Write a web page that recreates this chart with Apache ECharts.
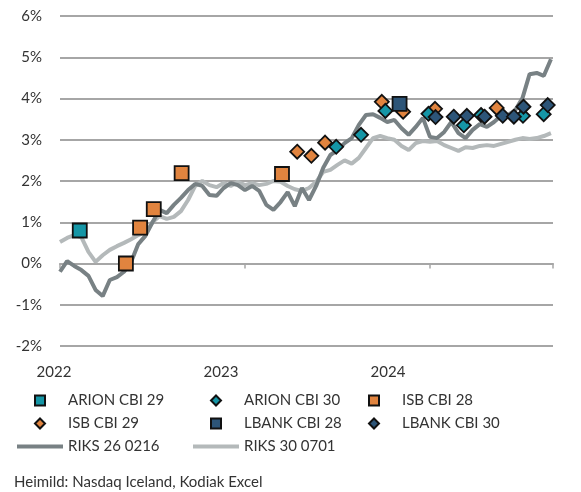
<!DOCTYPE html>
<html>
<head>
<meta charset="utf-8">
<script src="https://cdn.jsdelivr.net/npm/echarts@6/dist/echarts.min.js"></script>
<style>
  html, body { margin: 0; padding: 0; background: #fff; }
  #chart { width: 581px; height: 492px; }
</style>
</head>
<body>
<div id="chart"></div>
<script>
// y-ás (%)
const yTicks = [-2, -1, 0, 1, 2, 3, 4, 5, 6];
const yearLabels = [2022, 2023, 2024];

// ríkisbréf, gildi á tveggja vikna fresti frá byrjun 2022
const riksStart = 2022;
const riksStep = 1 / 26;
const riks26 = [
  -0.2, 0.06, -0.06, -0.16, -0.3, -0.64, -0.79, -0.4, -0.33, -0.2,
  0.04, 0.47, 0.67, 1.0, 1.3, 1.22, 1.42, 1.59, 1.78, 1.93,
  1.88, 1.66, 1.64, 1.83, 1.95, 1.9, 1.78, 1.88, 1.76, 1.42,
  1.3, 1.49, 1.73, 1.39, 1.83, 1.54, 1.88, 2.32, 2.63, 2.75,
  2.92, 3.04, 3.36, 3.6, 3.62, 3.53, 3.43, 3.48, 3.28, 3.12,
  3.31, 3.53, 3.07, 3.04, 3.19, 3.43, 3.16, 3.04, 3.24, 3.38,
  3.31, 3.43, 3.58, 3.6, 3.72, 4.01, 4.59, 4.62, 4.55, 4.95
];
const riks30 = [
  0.52, 0.62, 0.69, 0.64, 0.28, 0.04, 0.2, 0.33, 0.42, 0.5,
  0.59, 0.69, 0.76, 1.0, 1.15, 1.08, 1.13, 1.27, 1.54, 1.88,
  2.0, 1.9, 1.85, 1.95, 1.88, 1.98, 1.9, 1.95, 1.9, 1.93,
  2.0, 1.98, 1.88, 1.8, 1.76, 1.83, 1.98, 2.22, 2.27, 2.39,
  2.5, 2.42, 2.56, 2.8, 3.04, 3.09, 3.04, 3.0, 2.85, 2.75,
  2.92, 2.97, 2.95, 2.97, 2.87, 2.8, 2.73, 2.82, 2.8, 2.85,
  2.87, 2.85, 2.9, 2.95, 3.0, 3.04, 3.02, 3.04, 3.09, 3.16
];

// sértryggð bréf (útboð)
const arion29Dates = ['2022-02-09'];
const arion29Vals = [0.8];
const arion30Dates = ['2023-06-30', '2023-08-18', '2023-10-05', '2023-12-29', '2024-03-08', '2024-04-11', '2024-07-03', '2024-08-13'];
const arion30Vals = [2.83, 3.12, 3.7, 3.63, 3.35, 3.6, 3.58, 3.62];
const isb28Dates = ['2022-05-11', '2022-06-08', '2022-07-05', '2022-08-29', '2023-03-15'];
const isb28Vals = [0.0, 0.87, 1.32, 2.19, 2.17];
const isb29Dates = ['2023-04-14', '2023-05-12', '2023-06-08', '2023-09-28', '2023-11-09', '2024-01-11', '2024-05-12'];
const isb29Vals = [2.71, 2.61, 2.93, 3.92, 3.68, 3.75, 3.77];
const lbank28Dates = ['2023-11-02'];
const lbank28Vals = [3.87];
const lbank30Dates = ['2024-01-12', '2024-02-17', '2024-03-14', '2024-04-18', '2024-05-24', '2024-06-15', '2024-07-04', '2024-08-21'];
const lbank30Vals = [3.55, 3.56, 3.58, 3.56, 3.58, 3.56, 3.8, 3.84];

function yearFrac(s) {
  const d = new Date(s + 'T00:00:00Z');
  const y = d.getUTCFullYear();
  const a = Date.UTC(y, 0, 1), b = Date.UTC(y + 1, 0, 1);
  return y + (d.getTime() - a) / (b - a);
}
function pts(dates, vals) {
  return dates.map((d, i) => [yearFrac(d), vals[i]]);
}
function linePts(vals) {
  return vals.map((v, i) => [riksStart + i * riksStep, v]);
}

const font = 'Lato, "Open Sans", sans-serif';
const txt = '#333';
// legend icons (keepAspect only works on path icons)
const lineIcon = 'path://M0,0 L46,0 L46,4 L0,4 Z';
const squareIcon = 'path://M0,0 L10,0 L10,10 L0,10 Z';
const diamondIcon = 'path://M5,0 L10,5 L5,10 L0,5 Z';

function markerSeries(name, symbol, size, color, data) {
  return {
    name: name,
    type: 'scatter',
    symbol: symbol,
    symbolSize: size,
    data: data,
    itemStyle: { color: color, borderColor: '#111', borderWidth: 1.8, opacity: 1 },
    emphasis: { disabled: true },
    z: 3
  };
}

function legendCol(left, items) {
  return {
    orient: 'vertical', left: left, top: 388, itemWidth: 46, itemHeight: 10, itemGap: 8,
    symbolKeepAspect: true, selectedMode: false,
    textStyle: { fontSize: 15, color: txt },
    data: items
  };
}

const chart = echarts.init(document.getElementById('chart'));
chart.setOption({
  animation: false,
  textStyle: { fontFamily: font },
  grid: { left: 60, right: 28, top: 16, bottom: 146 },
  xAxis: [
    {
      type: 'value',
      min: 2022,
      max: 2024.665,
      interval: 1,
      axisLine: { show: true, onZero: true, lineStyle: { color: '#a6a6a6', width: 2 } },
      axisTick: { show: true, length: 5, lineStyle: { color: '#a6a6a6', width: 1.5 } },
      axisLabel: { show: false },
      splitLine: { show: false }
    },
    {
      // ártalsmerkingar eins og í Excel-myndinni
      type: 'value',
      position: 'bottom',
      min: 2021.94,
      max: 2021.94 + 493 / 167,
      interval: 1,
      axisLine: { show: false, onZero: false },
      axisTick: { show: false },
      splitLine: { show: false },
      axisLabel: {
        margin: 19,
        fontSize: 15,
        color: txt,
        padding: [0, 12, 0, 0],
        formatter: function (v) {
          const y = Math.round(v);
          return yearLabels.indexOf(y) >= 0 ? String(y) : '';
        }
      }
    }
  ],
  yAxis: {
    type: 'value',
    min: yTicks[0],
    max: yTicks[yTicks.length - 1],
    interval: 1,
    axisLine: { show: false },
    axisTick: { show: false },
    axisLabel: { margin: 18, fontSize: 15, color: txt, formatter: '{value}%' },
    splitLine: { lineStyle: { color: '#a6a6a6', width: 2 } }
  },
  legend: [
    legendCol(12, [
      { name: 'ARION CBI 29', icon: squareIcon },
      { name: 'ISB CBI 29', icon: diamondIcon },
      { name: 'RIKS 26 0216', icon: lineIcon }
    ]),
    legendCol(188, [
      { name: 'ARION CBI 30', icon: diamondIcon },
      { name: 'LBANK CBI 28', icon: squareIcon },
      { name: 'RIKS 30 0701', icon: lineIcon }
    ]),
    legendCol(363, [
      { name: 'ISB CBI 28', icon: squareIcon },
      { name: 'LBANK CBI 30', icon: diamondIcon }
    ])
  ],
  title: {
    text: 'Heimild: Nasdaq Iceland, Kodiak Excel',
    left: 9, top: 470,
    textStyle: { fontSize: 15, fontWeight: 'normal', color: txt, fontFamily: font }
  },
  series: [
    {
      name: 'RIKS 30 0701', type: 'line', data: linePts(riks30),
      showSymbol: false, symbol: 'none', lineStyle: { color: '#b4b9ba', width: 4 },
      itemStyle: { color: '#b4b9ba' }, emphasis: { disabled: true }, z: 1
    },
    {
      name: 'RIKS 26 0216', type: 'line', data: linePts(riks26),
      showSymbol: false, symbol: 'none', lineStyle: { color: '#788184', width: 4 },
      itemStyle: { color: '#788184' }, emphasis: { disabled: true }, z: 2
    },
    markerSeries('ARION CBI 29', 'rect', 14, '#1596a6', pts(arion29Dates, arion29Vals)),
    markerSeries('ISB CBI 28', 'rect', 14, '#e1843f', pts(isb28Dates, isb28Vals)),
    markerSeries('ISB CBI 29', 'diamond', 14, '#e1843f', pts(isb29Dates, isb29Vals)),
    markerSeries('ARION CBI 30', 'diamond', 14, '#1596a6', pts(arion30Dates, arion30Vals)),
    markerSeries('LBANK CBI 28', 'rect', 14, '#2d5578', pts(lbank28Dates, lbank28Vals)),
    markerSeries('LBANK CBI 30', 'diamond', 14, '#2d5578', pts(lbank30Dates, lbank30Vals))
  ]
});
</script>
</body>
</html>
